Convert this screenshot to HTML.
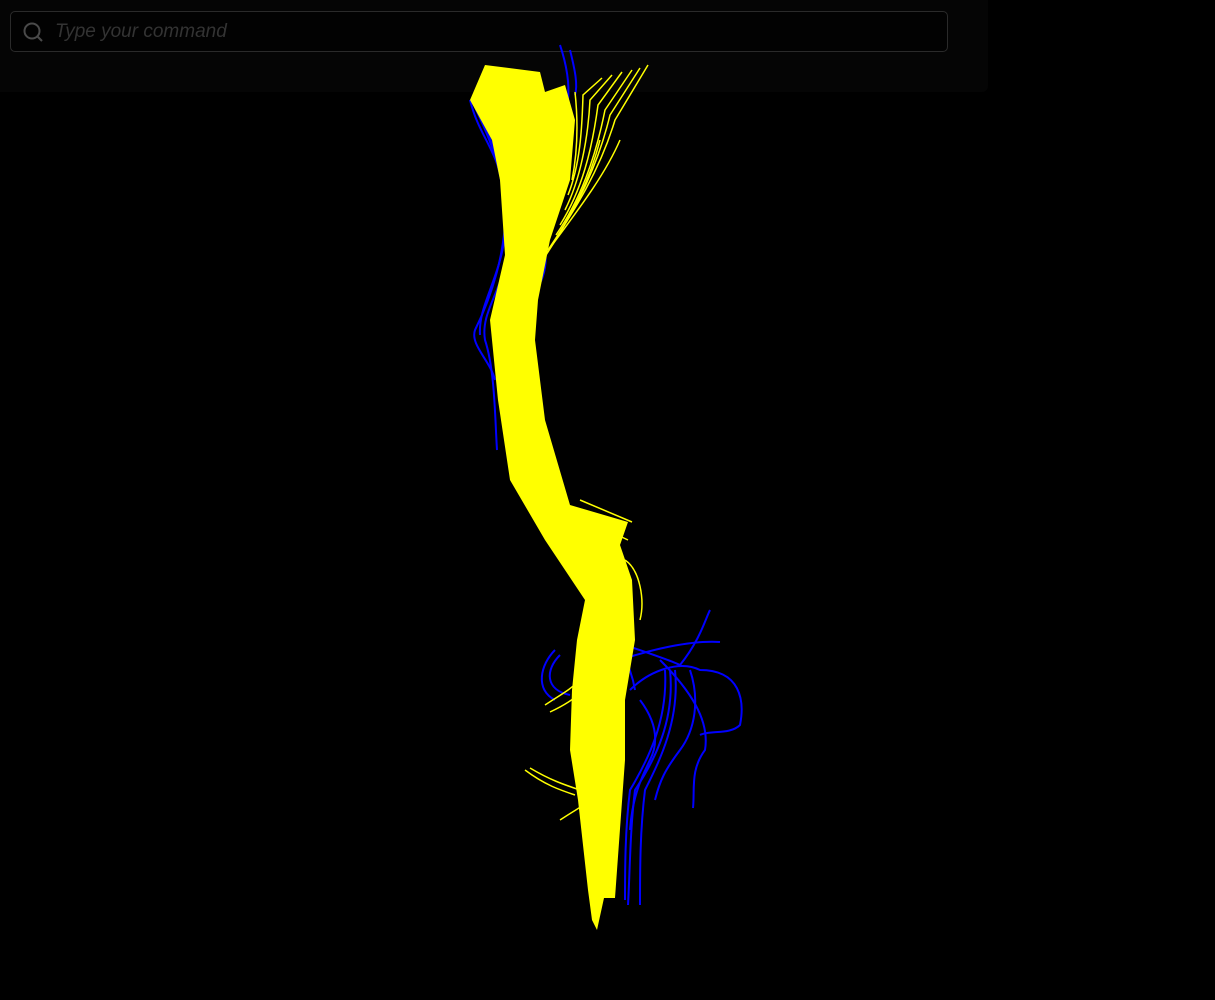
<!DOCTYPE html>
<html><head><meta charset="utf-8"><style>
html,body{margin:0;padding:0;background:#000;width:1215px;height:1000px;overflow:hidden;font-family:"Liberation Sans",sans-serif}
#panel{position:absolute;left:0;top:0;width:988px;height:92px;background:#050505;border-radius:0 0 6px 0}
#search{position:absolute;left:10px;top:11px;width:938px;height:41px;border:1px solid #2a2a2a;border-radius:5px;background:#020202;box-sizing:border-box}
#search span{position:absolute;left:44px;top:9px;font-style:italic;font-size:19px;color:#333}
svg#tract{position:absolute;left:0;top:0}
</style></head><body>
<div id="panel"></div>
<div id="search">
<svg width="24" height="24" style="position:absolute;left:11px;top:9px"><circle cx="10" cy="10" r="7.5" fill="none" stroke="#4a4a4a" stroke-width="2"/><line x1="15.5" y1="15.5" x2="20" y2="20" stroke="#4a4a4a" stroke-width="2"/></svg>
<span>Type your command</span></div>
<svg id="tract" width="1215" height="1000">
<g fill="none" stroke="#0000ff" stroke-width="2">
<path d="M560,45 C565,60 570,80 568,100"/><path d="M570,50 C575,70 578,85 575,95"/>
<path d="M470,100 C480,140 500,150 505,200 C508,250 490,300 475,330 C470,345 490,360 495,380"/>
<path d="M478,110 C495,150 510,180 510,240 C505,290 480,310 485,340 C495,370 495,420 497,450"/>
<path d="M474,105 C490,140 505,170 506,230 C500,280 478,305 480,335"/>
<path d="M545,250 C548,270 540,285 535,292"/>
<path d="M555,650 C540,665 535,690 555,700"/><path d="M560,655 C545,670 545,690 570,695"/>
<path d="M610,640 C640,650 670,660 680,665 C700,640 705,620 710,610"/>
<path d="M620,660 C650,650 690,640 720,642"/>
<path d="M630,690 C650,670 680,660 700,670 C740,670 745,700 740,725 C730,735 710,730 700,735"/>
<path d="M660,660 C690,690 710,720 705,750 C690,770 695,790 693,808"/>
<path d="M675,670 C680,720 660,760 645,790 C640,830 640,870 640,905"/>
<path d="M670,670 C675,720 655,760 635,790 C630,830 630,870 628,905"/>
<path d="M665,670 C668,720 648,760 630,790 C625,830 625,870 625,900"/>
<path d="M640,700 C655,720 660,740 650,760 C640,780 632,800 630,830"/>
<path d="M690,670 C700,700 695,730 680,750 C665,770 660,780 655,800"/>
<path d="M600,620 C615,640 630,660 635,690"/>
</g>
<g>
<path fill="#ffff00" d="M470,100 L485,65 L540,72 L545,92 L565,85 L575,120 L570,180 L550,240 L538,300 L535,340 L545,420 L570,505 L628,522 L620,545 L632,580 L635,640 L625,700 L625,760 L615,898 L604,898 L597,930 L592,920 L588,890 L578,800 L570,750 L572,690 L577,640 L585,600 L545,540 L510,480 L498,400 L490,320 L505,255 L500,180 L492,140 Z"/>
</g>
<g fill="none" stroke="#ffff00" stroke-width="1.5">
<path d="M525,770 C545,785 560,790 575,795"/><path d="M530,768 C550,780 565,785 580,790"/>
<path d="M560,820 C575,810 585,805 590,800"/>
<path d="M545,705 C560,695 570,690 580,680"/><path d="M550,712 C565,705 572,700 585,690"/>
<path d="M625,560 C640,570 645,600 640,620"/>
<path d="M580,500 L632,522"/><path d="M575,515 L628,540"/>
<path d="M548,250 C575,210 600,170 615,120 L648,65"/>
<path d="M552,245 C578,205 598,165 610,115 L640,68"/>
<path d="M556,235 C580,200 595,160 605,110 L632,70"/>
<path d="M560,225 C582,190 592,150 598,105 L622,72"/>
<path d="M565,210 C580,180 588,140 590,100 L612,75"/>
<path d="M568,195 C580,165 582,130 583,95 L602,78"/>
<path d="M572,180 C578,150 578,120 575,92"/>
<path d="M546,255 C572,215 590,180 600,140"/>
<path d="M550,248 C578,210 605,175 620,140"/>
</g>
</svg>
</body></html>
